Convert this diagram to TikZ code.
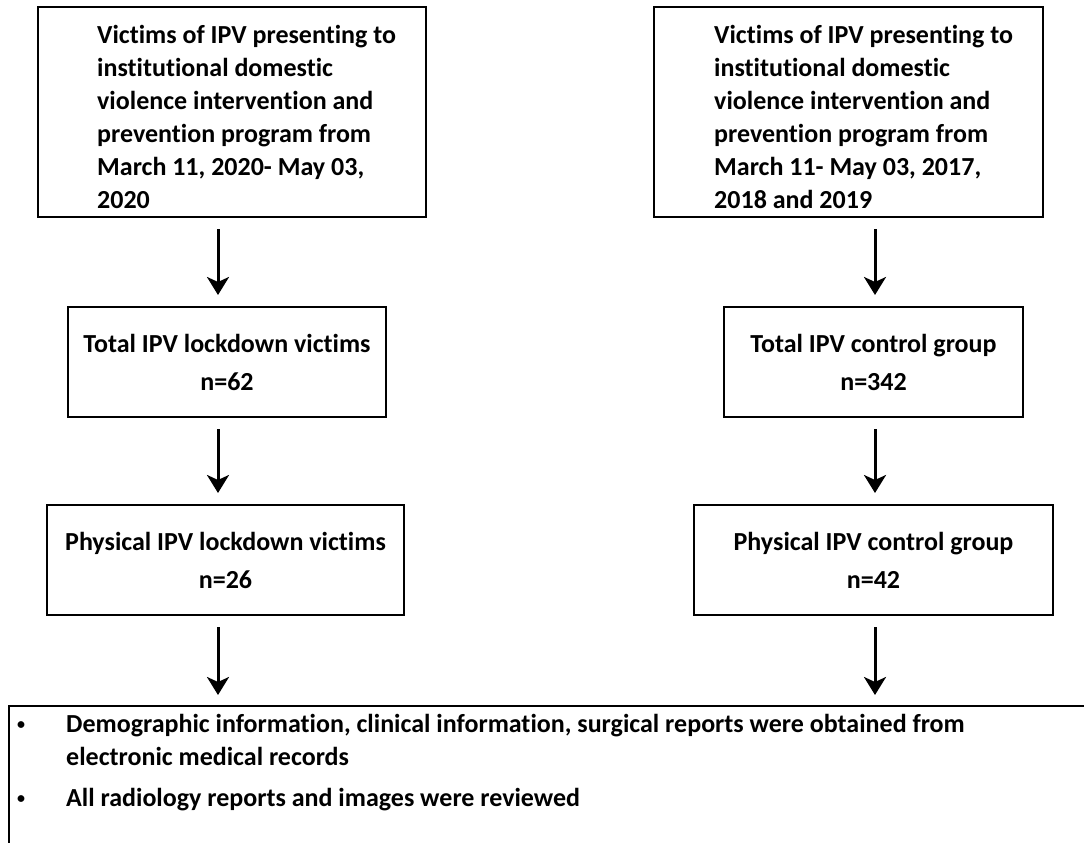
\documentclass[tikz,border=0pt]{standalone}
\usepackage{fontspec}
\setmainfont{Carlito}[Ligatures=NoCommon]
\usetikzlibrary{arrows.meta}
\newcommand{\dotmark}{\raisebox{3pt}{\fontsize{16}{16}\selectfont •}}
\begin{document}
\begin{tikzpicture}[x=1pt, y=-1pt,
    box/.style={draw, line width=2pt, inner sep=0pt},
    txt/.style={font=\bfseries\fontsize{26}{33}\selectfont, inner sep=0pt, align=left},
    cnt/.style={box, font=\bfseries\fontsize{26}{38}\selectfont, align=center}]
    \tikzset{>={Stealth[length=18pt, width=22pt, inset=5pt]}}
    \useasboundingbox (0,0) rectangle (1084,843);
    \coordinate (lx) at (218,0);
    \coordinate (rx) at (875,0);
    % top row
    \node[box, minimum width=388, minimum height=210] (lock) at (232,112) {};
    \node[txt, anchor=north west] at (97,25) {Victims of IPV presenting to\\institutional domestic\\violence intervention and\\prevention program from\\March 11, 2020- May 03,\\2020};
    \node[box, minimum width=389, minimum height=210] (ctrl) at (848.5,112) {};
    \node[txt, anchor=north west] at (714,25) {Victims of IPV presenting to\\institutional domestic\\violence intervention and\\prevention program from\\March 11- May 03, 2017,\\2018 and 2019};
    % totals
    \node[cnt, minimum width=318, minimum height=110] (locktot) at (227,362) {Total IPV lockdown victims\\n=62};
    \node[cnt, minimum width=299, minimum height=110] (ctrltot) at (873.5,362) {Total IPV control group\\n=342};
    % physical
    \node[cnt, minimum width=357, minimum height=110] (lockphy) at (225.5,560) {Physical IPV lockdown victims\\n=26};
    \node[cnt, minimum width=359, minimum height=110] (ctrlphy) at (873.5,560) {Physical IPV control group\\n=42};
    % records
    \node[box, minimum width=1084, minimum height=145, anchor=north west] (recs) at (8,705) {};
    \node[txt, anchor=north west] at (17,709) {\begin{tabular}[t]{@{}p{49pt}@{}l@{}}
        \dotmark & Demographic information, clinical information, surgical reports were obtained from\\
          & electronic medical records\\[8pt]
        \dotmark & All radiology reports and images were reviewed
    \end{tabular}};
    \draw[->, line width=3pt] ([yshift=-11pt]lock.south -| lx) -- ([yshift=11pt]locktot.north -| lx);
    \draw[->, line width=3pt] ([yshift=-11pt]locktot.south -| lx) -- ([yshift=11pt]lockphy.north -| lx);
    \draw[->, line width=3pt] ([yshift=-11pt]lockphy.south -| lx) -- ([yshift=10pt]recs.north -| lx);
    \draw[->, line width=3pt] ([yshift=-11pt]ctrl.south -| rx) -- ([yshift=11pt]ctrltot.north -| rx);
    \draw[->, line width=3pt] ([yshift=-11pt]ctrltot.south -| rx) -- ([yshift=11pt]ctrlphy.north -| rx);
    \draw[->, line width=3pt] ([yshift=-11pt]ctrlphy.south -| rx) -- ([yshift=10pt]recs.north -| rx);
\end{tikzpicture}
\end{document}
